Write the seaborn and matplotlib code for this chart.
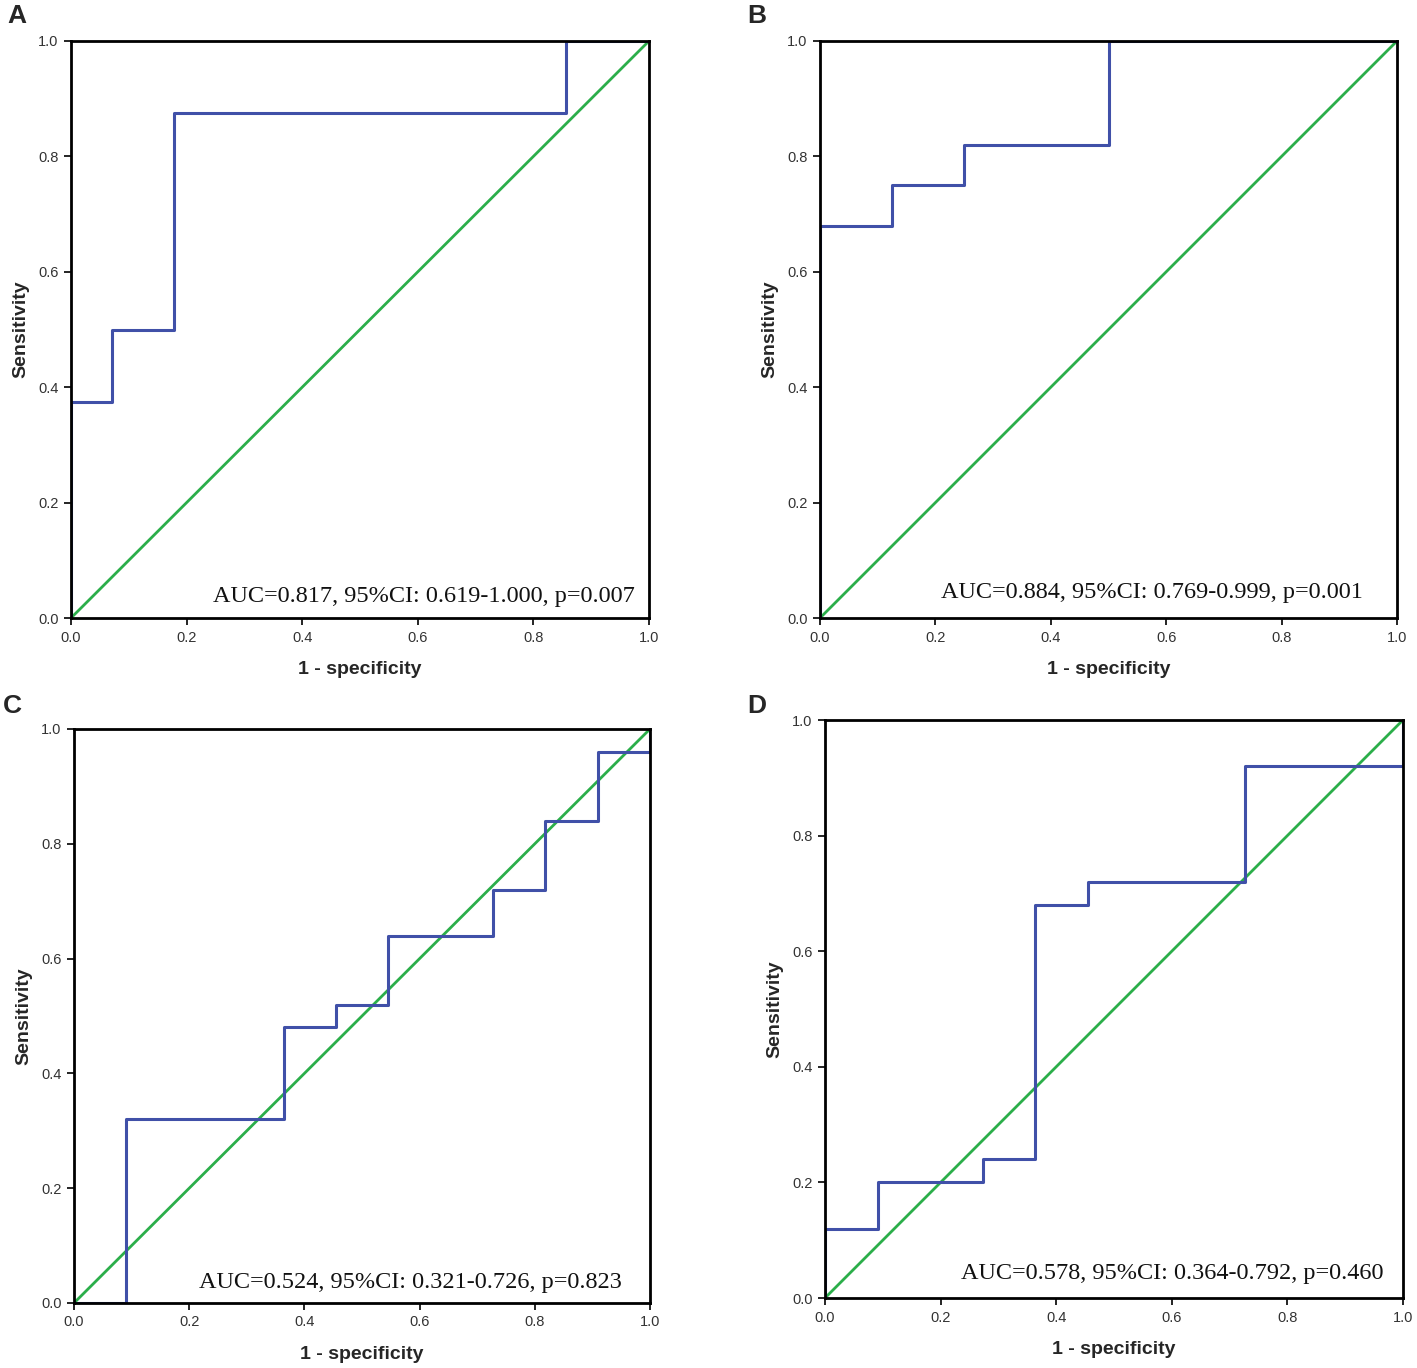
import matplotlib
matplotlib.use("Agg")
import matplotlib.pyplot as plt
import seaborn as sns

sns.set_theme(style="white")
plt.rcParams['font.family'] = ['Liberation Sans', 'DejaVu Sans']

# ---- data ----
fpr_A = [0, 0, 0.0714, 0.0714, 0.179, 0.179, 0.857, 0.857, 1.0]
tpr_A = [0, 0.375, 0.375, 0.5, 0.5, 0.875, 0.875, 1.0, 1.0]

fpr_B = [0, 0, 0.125, 0.125, 0.25, 0.25, 0.5, 0.5, 1.0]
tpr_B = [0, 0.68, 0.68, 0.75, 0.75, 0.82, 0.82, 1.0, 1.0]

fpr_C = [0, 0.091, 0.091, 0.364, 0.364, 0.455, 0.455, 0.545, 0.545,
         0.727, 0.727, 0.818, 0.818, 0.909, 0.909, 1.0, 1.0]
tpr_C = [0, 0, 0.32, 0.32, 0.48, 0.48, 0.52, 0.52, 0.64,
         0.64, 0.72, 0.72, 0.84, 0.84, 0.96, 0.96, 1.0]

fpr_D = [0, 0, 0.091, 0.091, 0.273, 0.273, 0.364, 0.364, 0.455, 0.455,
         0.727, 0.727, 1.0, 1.0]
tpr_D = [0, 0.12, 0.12, 0.20, 0.20, 0.24, 0.24, 0.68, 0.68, 0.72,
         0.72, 0.92, 0.92, 1.0]

ref_line = [0.0, 1.0]

panel_letters = ["A", "B", "C", "D"]
auc_texts = [
    "AUC=0.817, 95%CI: 0.619-1.000, p=0.007",
    "AUC=0.884, 95%CI: 0.769-0.999, p=0.001",
    "AUC=0.524, 95%CI: 0.321-0.726, p=0.823",
    "AUC=0.578, 95%CI: 0.364-0.792, p=0.460",
]
ticks = [0.0, 0.2, 0.4, 0.6, 0.8, 1.0]
tick_labels = ["0.0", "0.2", "0.4", "0.6", "0.8", "1.0"]
xlabel = "1 - specificity"
ylabel = "Sensitivity"

curves = [(fpr_A, tpr_A), (fpr_B, tpr_B), (fpr_C, tpr_C), (fpr_D, tpr_D)]

# ---- layout ----
W, H = 1417, 1368
fig = plt.figure(figsize=(W / 100, H / 100), dpi=100)

# (left, top, right, bottom) pixel boxes of the plot areas
boxes = [(71, 41, 649, 618), (820, 41, 1397, 618),
         (74, 729, 650, 1303), (825, 720, 1403, 1298)]
text_pos = [(0.975, 0.037), (0.940, 0.044), (0.952, 0.035), (0.966, 0.043)]
letter_pos = [(17, 16), (757, 16), (12, 706), (757, 706)]

BLUE = "#4050A8"
GREEN = "#2BAE4A"

for i, (l, t, r, b) in enumerate(boxes):
    ax = fig.add_axes([l / W, 1 - b / H, (r - l) / W, (b - t) / H])
    fx, ty = curves[i]
    sns.lineplot(x=ref_line, y=ref_line, ax=ax, color=GREEN, linewidth=2.0,
                 sort=False, estimator=None, zorder=1.5)
    sns.lineplot(x=fx, y=ty, ax=ax, color=BLUE, linewidth=2.2,
                 sort=False, estimator=None, zorder=2)
    ax.set_xlim(0, 1)
    ax.set_ylim(0, 1)
    ax.set_xticks(ticks)
    ax.set_yticks(ticks)
    ax.set_xticklabels(tick_labels)
    ax.set_yticklabels(tick_labels)
    ax.tick_params(axis='both', which='major', direction='out', length=5,
                   width=1.2, color='black', labelsize=10.5,
                   labelcolor='#333333', pad=4, bottom=True, left=True)
    for s in ax.spines.values():
        s.set_visible(True)
        s.set_color('black')
        s.set_linewidth(2.0)
        s.set_zorder(3)
    ax.set_xlabel(xlabel, fontsize=14, fontweight='bold', labelpad=12)
    ax.set_ylabel(ylabel, fontsize=14, fontweight='bold', labelpad=6)
    ax.grid(False)
    ax.text(text_pos[i][0], text_pos[i][1], auc_texts[i], transform=ax.transAxes,
            ha='right', va='center', fontsize=17.5,
            family=['Liberation Serif', 'DejaVu Serif'], color='#111111')
    lx, ly = letter_pos[i]
    fig.text(lx / W, 1 - ly / H, panel_letters[i], fontsize=19,
             fontweight='bold', ha='center', va='center')

fig.savefig("out.png", dpi=100, facecolor='white')
